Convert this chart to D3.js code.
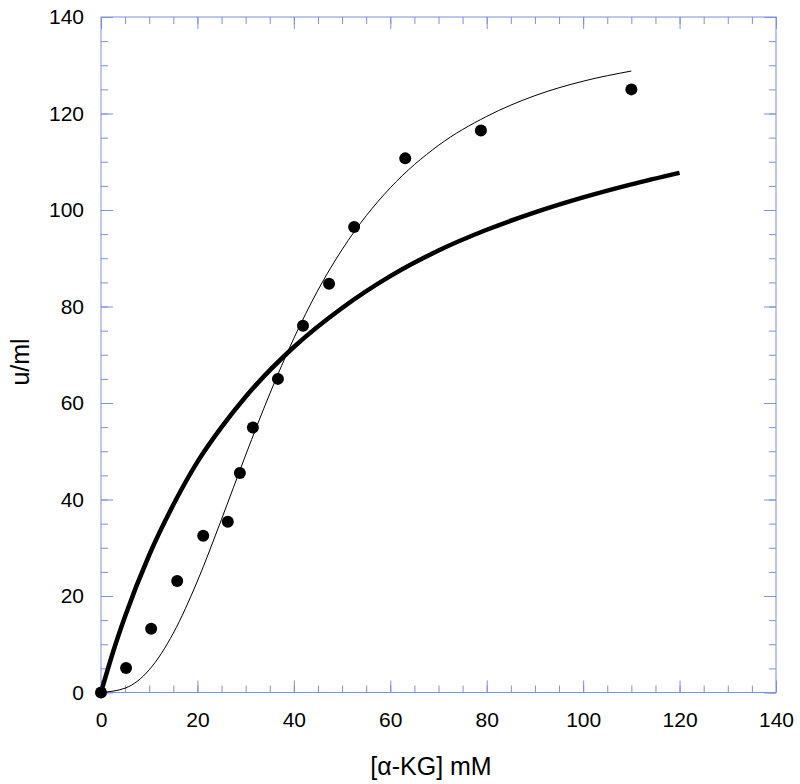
<!DOCTYPE html>
<html>
<head>
<meta charset="utf-8">
<script src="https://cdn.jsdelivr.net/npm/d3@7"></script>
<style>
  body { margin: 0; background: #fff; }
  svg text { font-family: "Liberation Sans", Arial, Helvetica, sans-serif; fill: #000; }
</style>
</head>
<body>
<script>
'use strict';

// measured points
var substrate = [0, 5.2, 10.4, 15.8, 21.2, 26.3, 28.8, 31.5, 36.7, 41.9, 47.3, 52.5, 63.1, 78.8, 110];
var activity  = [0, 5.1, 13.2, 23.1, 32.5, 35.4, 45.5, 54.9, 65.0, 76.0, 84.7, 96.5, 110.7, 116.5, 125];

// thick curve
var thickX = [0, 2.5, 5, 10, 15, 20, 25, 30, 40, 50, 60, 70, 80, 90, 100, 110, 120];
var thickY = [0, 8.4, 15.8, 28.5, 38.9, 47.8, 55.0, 61.3, 71.6, 79.7, 86.3, 91.6, 95.9, 99.5, 102.6, 105.3, 107.7];

// thin curve
var thinX = [0, 5, 10, 15, 20, 25, 30, 35, 40, 45, 50, 55, 60, 70, 80, 90, 100, 110];
var thinY = [0, 0.9, 4.7, 12.3, 23.1, 35.9, 49.2, 61.9, 73.4, 83.4, 91.8, 98.8, 104.6, 113.4, 119.4, 123.7, 126.7, 128.8];

var xTicks = [0, 20, 40, 60, 80, 100, 120, 140];
var yTicks = [0, 20, 40, 60, 80, 100, 120, 140];
var minorTicks = d3.range(0, 141, 5);

(function() {

  var width = 800, height = 784;
  var plotLeft = 101, plotRight = 776, plotTop = 17, plotBottom = 692.5;
  var axisColor = "#7f8fe2";

  var svg = d3.select("body").append("svg")
      .attr("width", width)
      .attr("height", height);

  var x = d3.scaleLinear().domain([0, 140]).range([plotLeft, plotRight]);
  var y = d3.scaleLinear().domain([0, 140]).range([plotBottom, plotTop]);

  // frame
  svg.append("rect")
      .attr("x", plotLeft).attr("y", plotTop)
      .attr("width", plotRight - plotLeft).attr("height", plotBottom - plotTop)
      .attr("fill", "none")
      .attr("stroke", axisColor)
      .attr("stroke-width", 1);

  function styleAxis(g) {
    g.select(".domain").remove();
    g.selectAll(".tick line").attr("stroke", axisColor);
    g.selectAll(".tick text").attr("font-size", 21).attr("fill", "#000")
        .attr("font-family", "'Liberation Sans', Arial, Helvetica, sans-serif");
  }

  // minor ticks, all four sides
  [[d3.axisBottom(x), "translate(0," + plotBottom + ")"],
   [d3.axisTop(x), "translate(0," + plotTop + ")"],
   [d3.axisLeft(y), "translate(" + plotLeft + ",0)"],
   [d3.axisRight(y), "translate(" + plotRight + ",0)"]].forEach(function(a) {
    svg.append("g")
        .attr("transform", a[1])
        .call(a[0].tickValues(minorTicks).tickSizeInner(-7).tickSizeOuter(0).tickFormat(""))
        .call(styleAxis);
  });

  // major ticks
  svg.append("g")
      .attr("transform", "translate(0," + plotBottom + ")")
      .call(d3.axisBottom(x).tickValues(xTicks).tickSizeInner(-12).tickSizeOuter(0).tickPadding(20).tickFormat(d3.format("d")))
      .call(styleAxis);
  svg.append("g")
      .attr("transform", "translate(0," + plotTop + ")")
      .call(d3.axisTop(x).tickValues(xTicks).tickSizeInner(-12).tickSizeOuter(0).tickFormat(""))
      .call(styleAxis);
  svg.append("g")
      .attr("transform", "translate(" + plotLeft + ",0)")
      .call(d3.axisLeft(y).tickValues(yTicks).tickSizeInner(-12).tickSizeOuter(0).tickPadding(17).tickFormat(d3.format("d")))
      .call(styleAxis);
  svg.append("g")
      .attr("transform", "translate(" + plotRight + ",0)")
      .call(d3.axisRight(y).tickValues(yTicks).tickSizeInner(-12).tickSizeOuter(0).tickFormat(""))
      .call(styleAxis);

  // curves
  var line = d3.line()
      .x(function(d) { return x(d[0]); })
      .y(function(d) { return y(d[1]); })
      .curve(d3.curveMonotoneX);

  svg.append("path")
      .datum(thickX.map(function(v, i) { return [v, thickY[i]]; }))
      .attr("fill", "none")
      .attr("stroke", "#000")
      .attr("stroke-width", 4.5)
      .attr("d", line);

  svg.append("path")
      .datum(thinX.map(function(v, i) { return [v, thinY[i]]; }))
      .attr("fill", "none")
      .attr("stroke", "#000")
      .attr("stroke-width", 1)
      .attr("d", line);

  // points
  svg.selectAll(".dot")
      .data(substrate.map(function(v, i) { return [v, activity[i]]; }))
      .enter()
      .append("circle")
      .attr("class", "dot")
      .attr("cx", function(d) { return x(d[0]); })
      .attr("cy", function(d) { return y(d[1]); })
      .attr("r", 6)
      .attr("fill", "#000");

  // axis titles
  svg.append("text")
      .attr("x", 431).attr("y", 775)
      .attr("text-anchor", "middle")
      .attr("font-size", 25)
      .text("[\u03b1-KG] mM");

  svg.append("text")
      .attr("transform", "translate(29,362) rotate(-90)")
      .attr("text-anchor", "middle")
      .attr("font-size", 25)
      .text("u/ml");

})();
</script>
</body>
</html>
